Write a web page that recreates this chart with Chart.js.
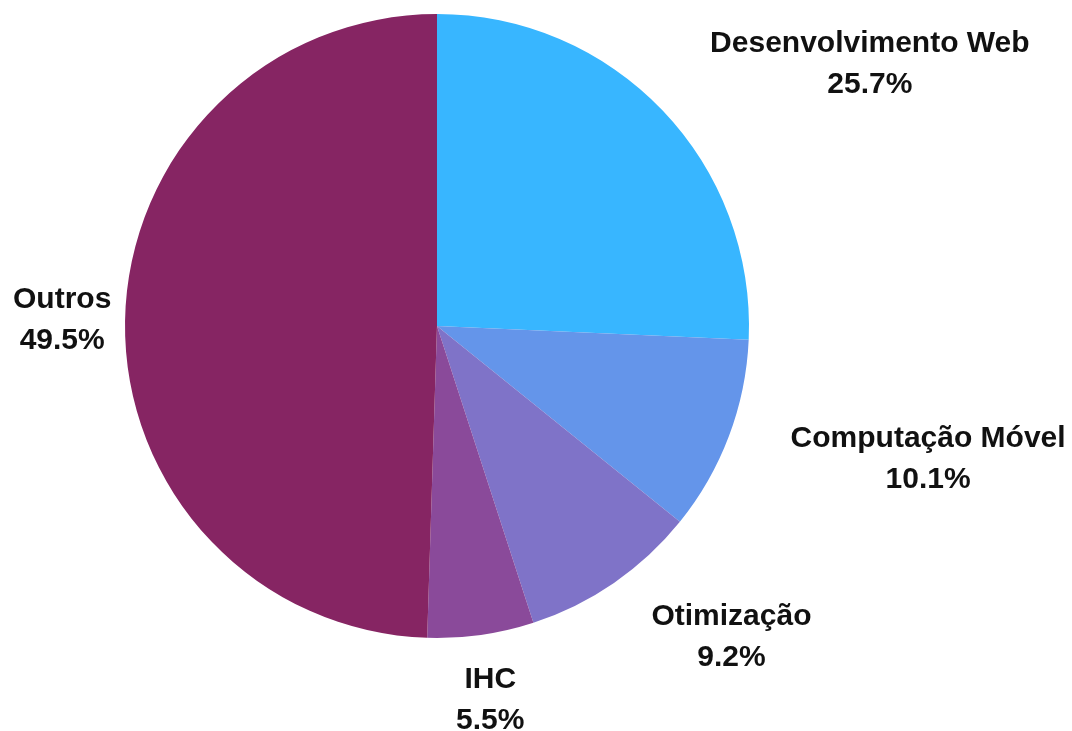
<!DOCTYPE html>
<html>
<head>
<meta charset="utf-8">
<script src="https://cdn.jsdelivr.net/npm/chart.js@4/dist/chart.umd.min.js"></script>
<style>
  html, body { margin: 0; padding: 0; background: #fff; }
  #wrap { width: 1072px; height: 731px; }
</style>
</head>
<body>
<div id="wrap"><canvas id="pieChart" width="1072" height="731"></canvas></div>
<script>
// Dados do gráfico
const categorias = ["Desenvolvimento Web", "Computação Móvel", "Otimização", "IHC", "Outros"];
const percentuais = [25.7, 10.1, 9.2, 5.5, 49.5];
const cores = ["#38b6ff", "#6495ea", "#7f73c8", "#8a4a9a", "#862563"];

// Rótulos fora da pizza: nome em cima, percentual embaixo
const rotulosExternos = {
  id: "rotulosExternos",
  afterDraw(chart) {
    const ctx = chart.ctx;
    const meta = chart.getDatasetMeta(0);
    const total = percentuais.reduce((a, b) => a + b, 0);
    ctx.save();
    ctx.font = "bold 30px 'Liberation Sans', Arimo, Arial, sans-serif";
    ctx.fillStyle = "#111111";
    ctx.textAlign = "center";
    ctx.textBaseline = "middle";
    meta.data.forEach((arc, i) => {
      const p = arc.getProps(["x", "y", "startAngle", "endAngle", "outerRadius"], true);
      const meio = (p.startAngle + p.endAngle) / 2;
      const r = p.outerRadius + 66;
      const ax = p.x + r * Math.cos(meio);
      const ay = p.y + r * Math.sin(meio);
      const linhas = [categorias[i], (percentuais[i] / total * 100).toFixed(1) + "%"];
      const largura = Math.max(...linhas.map(t => ctx.measureText(t).width));
      let esquerda;
      const c = Math.cos(meio);
      if (Math.abs(c) < 0.3) esquerda = ax - largura / 2;
      else if (c > 0) esquerda = ax;
      else esquerda = ax - largura;
      esquerda = Math.max(13, Math.min(chart.width - 5 - largura, esquerda));
      const cx = esquerda + largura / 2;
      ctx.fillText(linhas[0], cx, ay - 20.5);
      ctx.fillText(linhas[1], cx, ay + 20.5);
    });
    ctx.restore();
  }
};

const ctx = document.getElementById("pieChart").getContext("2d");
new Chart(ctx, {
  type: "pie",
  data: {
    labels: categorias,
    datasets: [{
      data: percentuais,
      backgroundColor: cores,
      borderWidth: 0
    }]
  },
  options: {
    responsive: false,
    animation: false,
    layout: {
      padding: { top: 14, bottom: 93, left: 125, right: 323 }
    },
    plugins: {
      legend: { display: false },
      tooltip: { enabled: false }
    }
  },
  plugins: [rotulosExternos]
});
</script>
</body>
</html>
